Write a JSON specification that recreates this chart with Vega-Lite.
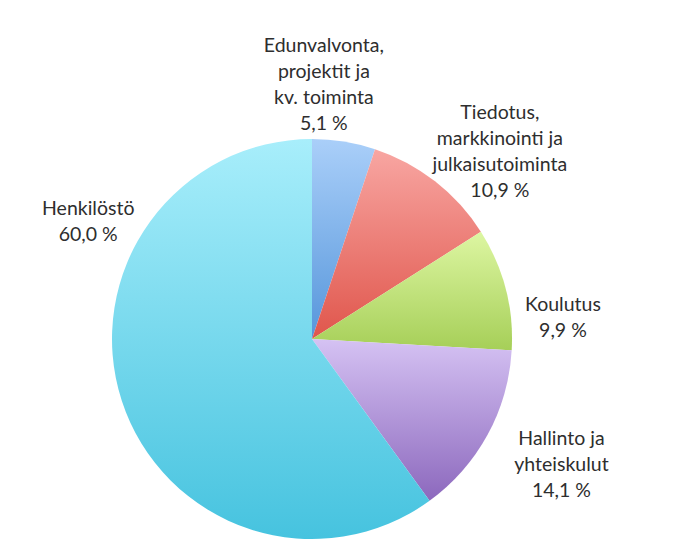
{
  "$schema": "https://vega.github.io/schema/vega-lite/v6.json",
  "width": 624,
  "height": 418,
  "autosize": "none",
  "padding": {"left": 0, "top": 130, "right": 0, "bottom": 0},
  "background": "white",
  "config": {"view": {"stroke": null}},
  "data": {
    "values": [
      {"category": "Edunvalvonta", "order": 1, "value": 5.1, "label": "Edunvalvonta,\nprojektit ja\nkv. toiminta\n5,1 %"},
      {"category": "Tiedotus", "order": 2, "value": 10.9, "label": "Tiedotus,\nmarkkinointi ja\njulkaisutoiminta\n10,9 %"},
      {"category": "Koulutus", "order": 3, "value": 9.9, "label": "Koulutus\n9,9 %"},
      {"category": "Hallinto", "order": 4, "value": 14.1, "label": "Hallinto ja\nyhteiskulut\n14,1 %"},
      {"category": "Henkilöstö", "order": 5, "value": 60.0, "label": "Henkilöstö\n60,0 %"}
    ]
  },
  "encoding": {
    "theta": {"field": "value", "type": "quantitative", "stack": true},
    "order": {"field": "order", "type": "quantitative"}
  },
  "layer": [
    {
      "mark": {"type": "arc", "outerRadius": 200, "color": {"gradient": "linear", "x1": 0, "y1": 0, "x2": 0, "y2": 1, "stops": [{"offset": 0, "color": "#aacff9"}, {"offset": 1, "color": "#5696db"}]}},
      "encoding": {"opacity": {"condition": {"test": "datum.category === 'Edunvalvonta'", "value": 1}, "value": 0}}
    },
    {
      "mark": {"type": "arc", "outerRadius": 200, "color": {"gradient": "linear", "x1": 0, "y1": 0, "x2": 0, "y2": 1, "stops": [{"offset": 0, "color": "#f8a6a2"}, {"offset": 1, "color": "#e0564c"}]}},
      "encoding": {"opacity": {"condition": {"test": "datum.category === 'Tiedotus'", "value": 1}, "value": 0}}
    },
    {
      "mark": {"type": "arc", "outerRadius": 200, "color": {"gradient": "linear", "x1": 0, "y1": 0, "x2": 0, "y2": 1, "stops": [{"offset": 0, "color": "#ddf6a2"}, {"offset": 1, "color": "#a6cf58"}]}},
      "encoding": {"opacity": {"condition": {"test": "datum.category === 'Koulutus'", "value": 1}, "value": 0}}
    },
    {
      "mark": {"type": "arc", "outerRadius": 200, "color": {"gradient": "linear", "x1": 0, "y1": 0, "x2": 0, "y2": 1, "stops": [{"offset": 0, "color": "#d5c2f3"}, {"offset": 1, "color": "#8c68bd"}]}},
      "encoding": {"opacity": {"condition": {"test": "datum.category === 'Hallinto'", "value": 1}, "value": 0}}
    },
    {
      "mark": {"type": "arc", "outerRadius": 200, "color": {"gradient": "linear", "x1": 0, "y1": 0, "x2": 0, "y2": 1, "stops": [{"offset": 0, "color": "#a8eefb"}, {"offset": 1, "color": "#46c3df"}]}},
      "encoding": {"opacity": {"condition": {"test": "datum.category === 'Henkilöstö'", "value": 1}, "value": 0}}
    },
    {
      "mark": {"type": "text", "radius": 250, "dx": -28, "dy": -46, "lineBreak": "\n", "font": "Lato", "fontSize": 19.5, "lineHeight": 26, "align": "center", "baseline": "middle", "color": "#2e2e2e"},
      "encoding": {"text": {"condition": {"test": "datum.category === 'Edunvalvonta'", "field": "label"}, "value": ""}}
    },
    {
      "mark": {"type": "text", "radius": 250, "dx": 34, "dy": -29, "lineBreak": "\n", "font": "Lato", "fontSize": 19.5, "lineHeight": 26, "align": "center", "baseline": "middle", "color": "#2e2e2e"},
      "encoding": {"text": {"condition": {"test": "datum.category === 'Tiedotus'", "field": "label"}, "value": ""}}
    },
    {
      "mark": {"type": "text", "radius": 250, "dx": 9, "dy": 29, "lineBreak": "\n", "font": "Lato", "fontSize": 19.5, "lineHeight": 26, "align": "center", "baseline": "middle", "color": "#2e2e2e"},
      "encoding": {"text": {"condition": {"test": "datum.category === 'Koulutus'", "field": "label"}, "value": ""}}
    },
    {
      "mark": {"type": "text", "radius": 250, "dx": 30, "dy": -20, "lineBreak": "\n", "font": "Lato", "fontSize": 19.5, "lineHeight": 26, "align": "center", "baseline": "middle", "color": "#2e2e2e"},
      "encoding": {"text": {"condition": {"test": "datum.category === 'Hallinto'", "field": "label"}, "value": ""}}
    },
    {
      "mark": {"type": "text", "radius": 250, "dx": 14, "dy": -207, "lineBreak": "\n", "font": "Lato", "fontSize": 19.5, "lineHeight": 26, "align": "center", "baseline": "middle", "color": "#2e2e2e"},
      "encoding": {"text": {"condition": {"test": "datum.category === 'Henkilöstö'", "field": "label"}, "value": ""}}
    }
  ]
}
